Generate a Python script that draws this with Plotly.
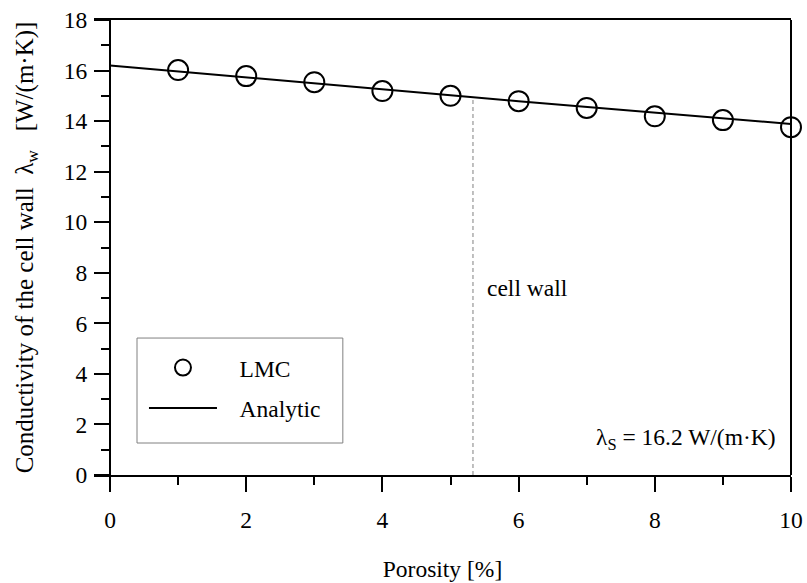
import plotly.graph_objects as go

lmc_x = [1, 2, 3, 4, 5, 6, 7, 8, 9, 10]
lmc_y = [16.02, 15.78, 15.54, 15.19, 15.0, 14.79, 14.52, 14.19, 14.04, 13.76]

analytic_x = [0, 1, 2, 3, 4, 5, 6, 7, 8, 9, 10]
analytic_y = [16.2, 15.96, 15.72, 15.49, 15.26, 15.02, 14.79, 14.56, 14.33, 14.11, 13.89]

cellwall_x = [5.33, 5.33]
cellwall_y = [0, 14.93]

FONT = "Liberation Serif, Times New Roman, serif"
FS = 23.5
NB = "\u00a0\u00a0\u00a0"
YTITLE = "Conductivity of the cell wall\u00a0\u00a0λ<sub>w</sub>\u00a0\u00a0\u00a0[W/(m·K)]"

fig = go.Figure()
fig.add_trace(go.Scatter(
    x=cellwall_x, y=cellwall_y, mode="lines",
    line=dict(color="#808080", width=1, dash="4px,3px"),
    showlegend=False, hoverinfo="skip"))
fig.add_trace(go.Scatter(
    x=lmc_x, y=lmc_y, mode="markers", name=NB + "LMC", legendgroup="a",
    cliponaxis=False,
    marker=dict(symbol="circle-open", size=20, color="black", line=dict(width=2, color="black"))))
fig.add_trace(go.Scatter(
    x=analytic_x, y=analytic_y, mode="lines", name=NB + "Analytic", legendgroup="b",
    line=dict(color="black", width=2)))

fig.update_layout(
    width=807, height=583,
    margin=dict(l=94, r=16, t=20, b=108, autoexpand=False),
    paper_bgcolor="white", plot_bgcolor="white",
    font=dict(family=FONT, size=FS, color="black"),
    showlegend=True,
    legend=dict(x=0.0717, y=0.284, xanchor="left", yanchor="top",
                borderwidth=0, bgcolor="rgba(0,0,0,0)",
                font=dict(size=FS, family=FONT), itemwidth=68,
                tracegroupgap=7),
    xaxis=dict(
        range=[-0.235, 10], tickvals=[0, 2, 4, 6, 8, 10],
        showline=True, linecolor="black", linewidth=2, mirror=True,
        ticks="outside", ticklen=15, tickwidth=2, tickcolor="black",
        minor=dict(tickvals=[1, 3, 5, 7, 9], ticks="outside", ticklen=8, tickwidth=2, tickcolor="black", showgrid=False),
        showgrid=False, zeroline=False, automargin=False,
        tickfont=dict(size=FS, family=FONT), ticklabelstandoff=8,
        title=dict(text="Porosity [%]", font=dict(size=FS, family=FONT), standoff=28),
    ),
    yaxis=dict(
        range=[0, 18], tickvals=[0, 2, 4, 6, 8, 10, 12, 14, 16, 18],
        anchor="free", position=16 / 697,
        showline=True, linecolor="black", linewidth=2,
        ticks="outside", ticklen=15, tickwidth=2, tickcolor="black",
        minor=dict(tickvals=[1, 3, 5, 7, 9, 11, 13, 15, 17], ticks="outside", ticklen=8, tickwidth=2, tickcolor="black", showgrid=False),
        showgrid=False, zeroline=False, automargin=False,
        tickfont=dict(size=FS, family=FONT), ticklabelstandoff=2,
        title=dict(text=YTITLE, font=dict(size=25, family=FONT), standoff=22),
    ),
    shapes=[
        dict(type="line", xref="paper", yref="paper", x0=1, x1=1, y0=0, y1=1,
             line=dict(color="black", width=2)),
        dict(type="rect", xref="paper", yref="paper", x0=0.0617, x1=0.357, y0=0.0703, y1=0.301,
             line=dict(color="#808080", width=1), fillcolor="rgba(0,0,0,0)"),
    ],
    annotations=[
        dict(text="cell wall", x=5.5, y=7.4, xref="x", yref="y", showarrow=False,
             xanchor="left", yanchor="middle", font=dict(size=FS, family=FONT)),
        dict(text="λ<sub>S</sub> = 16.2 W/(m·K)", x=0.981, y=0.08, xref="paper", yref="paper",
             showarrow=False, xanchor="right", yanchor="middle", font=dict(size=FS, family=FONT)),
    ],
)

fig.write_html("out.html")
